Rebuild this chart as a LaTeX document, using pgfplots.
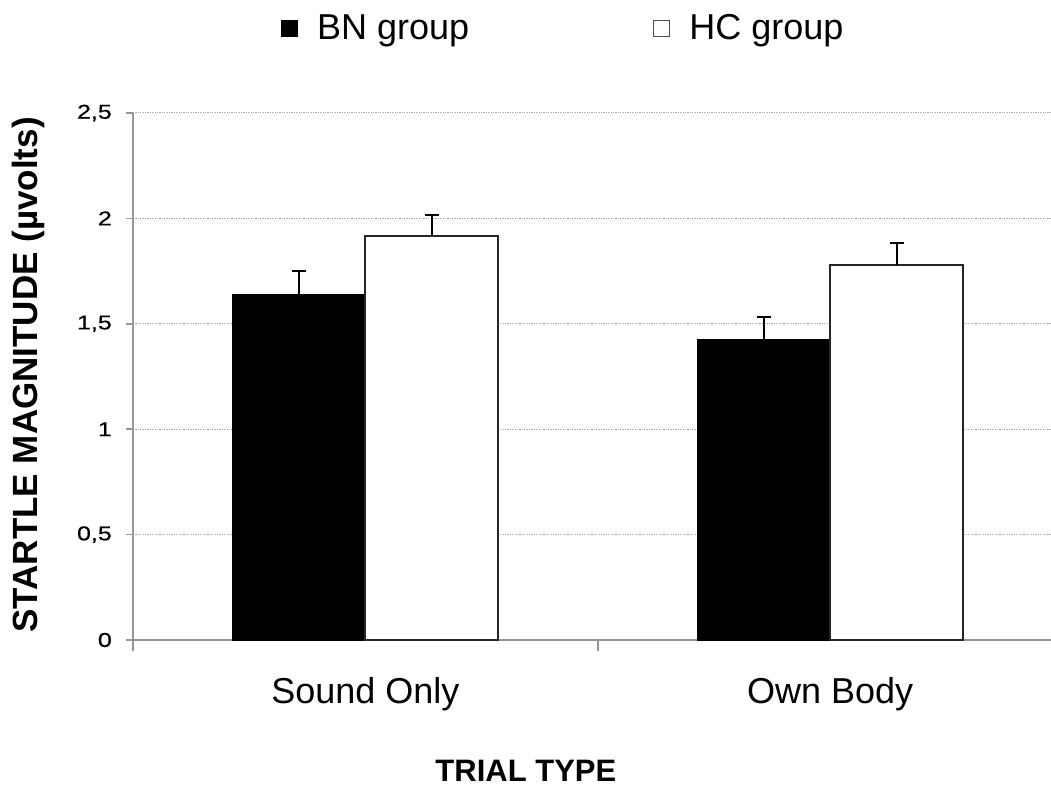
\documentclass[border=0pt]{standalone}
\usepackage{pgfplots}
\pgfplotsset{compat=1.18}
\usepackage{fontspec}
\setmainfont{Liberation Sans}
\definecolor{axgray}{RGB}{150,150,150}
\definecolor{gridgray}{RGB}{165,165,165}
\begin{document}
\begin{tikzpicture}
\useasboundingbox (-133pt,-149pt) rectangle (918pt,640pt);
\begin{axis}[
  at={(0pt,0pt)}, anchor=south west,
  scale only axis, width=918pt, height=527pt,
  xmin=-0.5, xmax=1.475, ymin=0, ymax=2.5,
  ybar, bar width=0.286,
  axis x line=bottom, axis y line=left,
  axis line style={draw=axgray, line width=1.5pt, -},
  clip=false,
  xtick={0,1}, xticklabels={Sound Only, Own Body},
  xtick style={draw=none},
  extra x ticks={-0.5,0.5},
  extra x tick labels={},
  extra x tick style={xtick style={draw=axgray, line width=1.5pt}, major tick length=11pt, tick align=outside, grid=none},
  ytick={0,0.5,1,1.5,2,2.5},
  yticklabels={0,{0,5},1,{1,5},2,{2,5}},
  ytick style={draw=axgray, line width=1.5pt},
  tick align=outside, major tick length=7pt,
  ymajorgrids,
  grid style={draw=gridgray, line width=1pt, dash pattern=on 1.2pt off 1.2pt},
  xticklabel style={font=\fontsize{36}{40}\selectfont, anchor=north, inner sep=0pt, yshift=-30pt},
  yticklabel style={font=\fontsize{20}{24}\selectfont\addfontfeature{FakeStretch=1.25,FakeBold=0.6}, anchor=east, inner sep=0pt, xshift=-14pt},
  xlabel={TRIAL TYPE},
  xlabel style={font=\fontsize{31}{36}\selectfont\bfseries, at={(axis description cs:0.428,-0.248)}, anchor=center},
  ylabel={STARTLE MAGNITUDE (µvolts)},
  ylabel style={font=\fontsize{35}{40}\selectfont\bfseries, at={(axis description cs:-0.114,0.503)}, anchor=center},
  legend columns=2,
  legend style={at={(axis description cs:0.478,1.161)}, anchor=center, draw=none, fill=none,
    font=\fontsize{36}{40}\selectfont,
    /tikz/every even column/.append style={column sep=165pt},
    nodes={inner xsep=19pt}},
  legend image code/.code={\path[#1] (0pt,-8pt) rectangle (16pt,8pt);},
  error bars/y dir=plus, error bars/y explicit,
  error bars/error mark options={rotate=90, mark size=7pt, line width=2.2pt, black},
  error bars/error bar style={line width=2.2pt, black},
]
\addplot[ybar, bar shift=-0.143, fill=black, draw=black, line width=1.5pt, forget plot]
  coordinates {(0,1.637) +- (0,0.113) (1,1.423) +- (0,0.109)};
\addplot[ybar, bar shift=0.143, fill=white, draw=black!85, line width=2pt, forget plot]
  coordinates {(0,1.916) +- (0,0.100) (1,1.779) +- (0,0.104)};
\addlegendimage{fill=black, draw=black, line width=1pt}
\addlegendentry{BN group}
\addlegendimage{fill=white, draw=black!70, line width=1.2pt}
\addlegendentry{HC group}
\end{axis}
\end{tikzpicture}
\end{document}
